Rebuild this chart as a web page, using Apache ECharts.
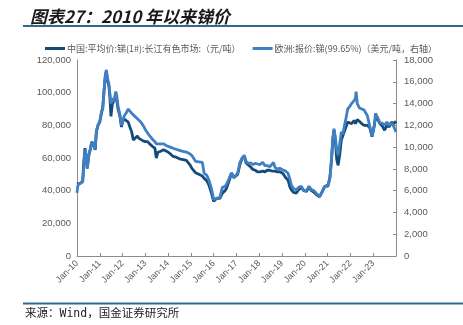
<!DOCTYPE html>
<html>
<head>
<meta charset="utf-8">
<script src="https://cdn.jsdelivr.net/npm/echarts@6/dist/echarts.min.js"></script>
<style>
html,body{margin:0;padding:0;background:#fff;}
#chart{width:463px;height:325px;}
</style>
</head>
<body>
<div id="chart"></div>
<script>
// Time in decimal years
const dates = [
2010.00,2010.04,2010.15,2010.25,2010.30,2010.35,2010.40,2010.45,2010.52,2010.58,2010.65,2010.72,2010.80,2010.85,2010.92,
2011.00,2011.08,2011.13,2011.18,2011.24,2011.29,2011.33,2011.40,2011.44,2011.49,2011.55,2011.62,2011.70,2011.74,2011.80,2011.88,2011.95,
2012.00,2012.06,2012.15,2012.25,2012.32,2012.40,2012.47,2012.55,2012.65,2012.72,2012.80,2012.90,
2013.00,2013.10,2013.20,2013.32,2013.42,2013.48,2013.55,2013.65,2013.80,2013.95,
2014.10,2014.21,2014.35,2014.50,2014.65,2014.80,2014.95,
2015.05,2015.20,2015.35,2015.50,2015.58,2015.70,2015.80,2015.90,
2016.00,2016.05,2016.15,2016.27,2016.38,2016.50,2016.56,2016.65,2016.78,2016.88,2016.96,
2017.05,2017.15,2017.25,2017.34,2017.42,2017.50,2017.62,2017.72,2017.82,2017.92,
2018.02,2018.15,2018.25,2018.35,2018.46,2018.55,2018.62,2018.70,2018.80,2018.90,
2019.04,2019.15,2019.26,2019.35,2019.41,2019.50,2019.63,2019.72,2019.85,2019.95,
2020.07,2020.18,2020.29,2020.40,2020.51,2020.65,2020.75,2020.87,
2021.02,2021.10,2021.17,2021.23,2021.28,2021.34,2021.40,2021.46,2021.53,2021.60,2021.67,2021.73,2021.80,2021.88,2021.96,
2022.05,2022.17,2022.22,2022.25,2022.30,2022.39,2022.50,2022.60,2022.74,2022.85,2022.95,
2023.05,2023.10,2023.20,2023.30,2023.40,2023.50,2023.60,2023.70,2023.80,2023.90,2024.00
];
// 中国:平均价:锑(1#):长江有色市场 (元/吨)
const chinaPrice = [
44000,44500,44500,46000,58000,66000,60000,54000,62000,65000,70000,71000,65000,76000,80000,
82000,88000,91000,100000,110000,113500,108000,104000,98000,85500,93000,93500,97500,96000,90000,86000,79000,
82000,84000,83000,82000,79000,76000,71000,71500,73500,72000,71000,70500,
70000,70000,68500,67000,66000,60000,63500,64000,65000,64000,
62500,61000,60500,59500,59000,58500,56000,
53500,51000,50000,49000,47500,46000,43000,38500,
33500,34000,35500,35300,38500,40000,41500,45000,50500,48000,47500,
50000,56000,60000,61000,57000,56500,54500,53000,52500,51500,
51500,52000,51500,52500,52500,52000,52500,52000,51500,51600,
50500,48000,46500,42000,40500,39000,38500,40500,42000,40000,
39500,42000,40000,39000,37500,36300,39000,42500,
43500,48000,59000,72000,77000,70000,59000,55500,62000,71000,72000,76000,77000,82000,81500,
81000,83000,81000,82000,83500,82500,81000,80000,80000,78500,73000,
80000,85000,83500,81000,79500,77000,80000,79000,82000,81000,82500
];
// 欧洲:报价:锑(99.65%) (美元/吨, 右轴)
const europePrice = [
5800,6500,6700,6800,8300,9800,9300,8000,9200,9800,10500,10600,9800,11500,12000,
12400,13300,13500,15000,16500,17100,16400,15800,15000,14000,14500,14200,15100,14800,13800,13000,12000,
12300,12800,13100,13500,13400,13100,13200,12800,12600,12700,12300,12000,
11600,11300,11000,10700,10500,10300,10400,10300,10300,10100,
10000,9900,9800,9700,9600,9550,9400,
9200,8700,8650,8600,7600,7400,6900,6200,
5200,5100,5300,5400,6300,6400,6600,7000,7650,7200,7100,
7600,8600,9000,9250,8700,8500,8550,8400,8500,8450,
8400,8600,8300,8300,8200,8400,8600,8100,8000,8050,
7900,7800,7600,7000,6500,6200,6050,6300,6400,6000,
6000,6400,6100,6000,5750,5450,5900,6400,
6400,7200,8800,10800,11700,10900,9700,9300,10300,11400,11200,11900,12600,13500,13700,
14000,14300,14500,15100,14000,13600,13500,13400,12900,11900,11000,
12000,13100,12700,12200,12200,12000,12300,12000,12200,11900,11400
];
const seriesNames = ['中国:平均价:锑(1#):长江有色市场:（元/吨）', '欧洲:报价:锑(99.65%)（美元/吨，右轴）'];
const leftTicks = {min: 0, max: 120000, interval: 20000};
const rightTicks = {min: 0, max: 18000, interval: 2000};
const xTicks = {min: 2010, max: 2024, interval: 1};

const darkColor = '#154b78';
const blueColor = '#3f7fc2';
const fmt = v => v.toLocaleString('en-US');

const chart = echarts.init(document.getElementById('chart'), null, {renderer: 'canvas'});
chart.setOption({
  animation: false,
  backgroundColor: '#fff',
  title: {
    text: '图表27：2010 年以来锑价',
    left: 25, top: 3,
    textStyle: {fontSize: 17, fontWeight: 'bold', fontStyle: 'italic', color: '#1a1a1a',
      fontFamily: '"Noto Sans CJK SC", sans-serif'}
  },
  graphic: [
    {type: 'line', shape: {x1: 23, y1: 26, x2: 463, y2: 26}, style: {stroke: '#2f6a8e', lineWidth: 2}},
    {type: 'line', shape: {x1: 23, y1: 303.5, x2: 463, y2: 303.5}, style: {stroke: '#2f6a8e', lineWidth: 2}},
    {type: 'text', left: 25, top: 308, style: {text: '来源：Wind，国金证券研究所', fontSize: 11.5, fill: '#222',
      fontFamily: '"DejaVu Sans Mono", "Noto Sans CJK SC", monospace'}}
  ],
  legend: {
    top: 39, left: 40,
    itemWidth: 20, itemHeight: 3, itemGap: 12,
    icon: 'rect',
    textStyle: {fontSize: 9, color: '#595959', fontFamily: '"Noto Sans CJK SC", sans-serif', padding: [0,0,0,-3]},
    data: seriesNames
  },
  grid: {left: 77, right: 67, top: 60, bottom: 69, containLabel: false},
  xAxis: {
    type: 'value', min: xTicks.min, max: xTicks.max, interval: xTicks.interval,
    axisLine: {lineStyle: {color: '#8c8c8c', width: 1}},
    axisTick: {inside: true, length: 3, lineStyle: {color: '#8c8c8c'}},
    splitLine: {show: false},
    axisLabel: {
      rotate: 45, fontSize: 9, color: '#595959', margin: 6, showMaxLabel: false,
      fontFamily: 'Arial, "Liberation Sans", sans-serif',
      formatter: v => v < xTicks.max ? 'Jan-' + String(Math.round(v) - 2000).padStart(2, '0') : ''
    }
  },
  yAxis: [
    {
      type: 'value', min: leftTicks.min, max: leftTicks.max, interval: leftTicks.interval,
      axisLine: {show: true, lineStyle: {color: '#8c8c8c'}},
      axisTick: {show: false},
      splitLine: {show: false},
      axisLabel: {fontSize: 9.5, color: '#595959', margin: 6, formatter: fmt,
        fontFamily: 'Arial, "Liberation Sans", sans-serif'}
    },
    {
      type: 'value', min: rightTicks.min, max: rightTicks.max, interval: rightTicks.interval,
      position: 'right',
      axisLine: {show: true, lineStyle: {color: '#8c8c8c'}},
      axisTick: {show: true, inside: true, length: 3, lineStyle: {color: '#8c8c8c'}},
      splitLine: {show: false},
      axisLabel: {fontSize: 9.5, color: '#595959', margin: 8, formatter: fmt,
        fontFamily: 'Arial, "Liberation Sans", sans-serif'}
    }
  ],
  series: [
    {
      name: seriesNames[0], type: 'line', yAxisIndex: 0, showSymbol: false,
      lineStyle: {color: darkColor, width: 2.8}, itemStyle: {color: darkColor},
      data: dates.map((d, i) => [d, chinaPrice[i]])
    },
    {
      name: seriesNames[1], type: 'line', yAxisIndex: 1, showSymbol: false,
      lineStyle: {color: blueColor, width: 2.8}, itemStyle: {color: blueColor},
      data: dates.map((d, i) => [d, europePrice[i]])
    }
  ]
});
</script>
</body>
</html>
